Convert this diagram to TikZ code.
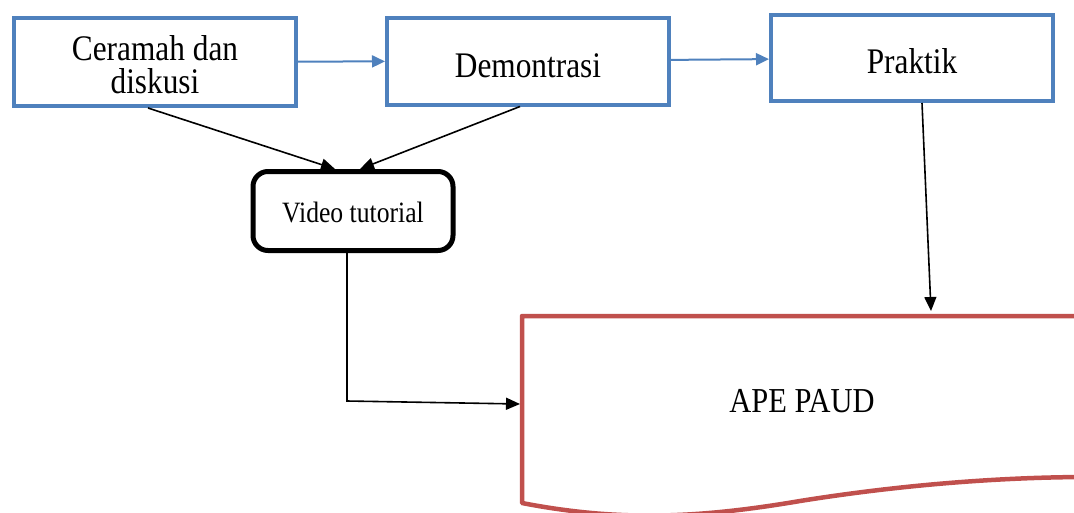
\documentclass[tikz,border=0pt]{standalone}
\usepackage{fontspec}
\setmainfont{Liberation Serif}
\newfontfamily\boxfont[FakeStretch=0.87]{Liberation Serif}
\usetikzlibrary{arrows.meta, positioning}
\definecolor{boxblue}{HTML}{4F81BD}
\definecolor{docred}{HTML}{C0504D}

\begin{document}
\begin{tikzpicture}[
				x = 1pt, y = -1pt,
				stepbox/.style = {draw=boxblue, line width=4pt, minimum width=282pt, minimum height=88pt, inner sep=0pt, text depth=0pt, align=center, font=\boxfont\fontsize{36}{33}\selectfont},
				videobox/.style = {draw, line width=5pt, rounded corners=15pt, minimum width=200pt, minimum height=79pt, inner sep=0pt, text height=22pt, text depth=0pt, font=\boxfont\fontsize{29.5}{33}\selectfont},
				bluearrow/.style = {draw=boxblue, line width=2pt, -{Triangle[length=13pt, width=12pt]}},
				blackarrow/.style = {draw, line width=1.6pt, -{Triangle[length=14pt, width=12pt]}}
			]
				\useasboundingbox (0,0) rectangle (1074,512);
				\clip (0,0) rectangle (1074,512);
				%
				\node (n1) [stepbox, text height=62pt] at (155,62)   {Ceramah dan\\diskusi};
				\node (n2) [stepbox, minimum height=87pt, text height=32pt] at (528,61)   {Demontrasi};
				\node (n3) [stepbox, minimum height=86pt, text height=30pt] at (912,58)   {Praktik};
				%
				\node (v1) [videobox] at (353,211)  {Video tutorial};
				%
				\draw [docred, line width=4.5pt, line join=round]
					(1090,316) -- (522,316) -- (522,503)
					.. controls (620,522) and (700,518) .. (800,501)
					.. controls (900,485) and (1000,477) .. (1090,477);
				\node (a1) [anchor=base, font=\boxfont\fontsize{35}{33}\selectfont] at (802,412) {APE PAUD};
				\coordinate (a1w) at (520,404);
				\coordinate (a1n) at (931,311);
				%
				\draw [bluearrow] (n1) -- (n2);
				\draw [bluearrow] (n2) -- (n3);
				\draw [blackarrow] ([xshift=-7pt]n1.south) -- ([xshift=-18pt]v1.north);
				\draw [blackarrow] ([xshift=-8pt]n2.south) -- ([xshift=7pt]v1.north);
				\draw [blackarrow] ([xshift=10pt]n3.south) -- (a1n);
				\draw [blackarrow] ([xshift=-6pt]v1.south) -- ++(0,148) -- (a1w);

			\end{tikzpicture}
\end{document}
